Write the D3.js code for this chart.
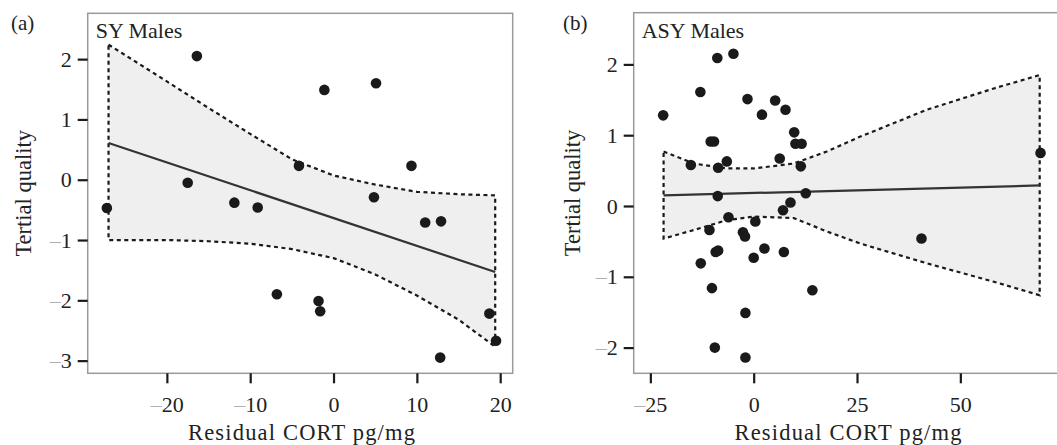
<!DOCTYPE html>
<html>
<head>
<meta charset="utf-8">
<script src="https://cdn.jsdelivr.net/npm/d3@7"></script>
<style>
  body { margin: 0; background: #fff; }
  svg { display: block; }
</style>
</head>
<body>
<svg id="chart" width="1057" height="445" font-family="'Liberation Serif', 'Times New Roman', serif"></svg>
<script>
// ---------- Panel (a): SY Males ----------
const syX = [-27.2, -16.4, -17.5, -11.9, -9.1, -6.8, -4.15, -1.1, -1.8, -1.6, 5.1, 4.85, 9.35, 11.0, 12.9, 12.8, 18.7, 19.5];
const syY = [-0.47, 2.05, -0.05, -0.38, -0.46, -1.90, 0.23, 1.49, -2.01, -2.18, 1.60, -0.29, 0.23, -0.71, -0.69, -2.95, -2.22, -2.67];
const syFitX = [-27.0, 19.4];
const syFitY = [0.61, -1.53];
const syBandX = [-27.0, -20, -15, -10, -5, 0, 5, 10, 15, 19.4];
const syUpper = [2.24, 1.63, 1.19, 0.76, 0.34, 0.07, -0.08, -0.20, -0.24, -0.26];
const syLower = [-1.0, -1.0, -1.02, -1.06, -1.15, -1.30, -1.57, -1.92, -2.32, -2.77];
const syXTicks = [-20, -10, 0, 10, 20];
const syYTicks = [-3, -2, -1, 0, 1, 2];

// ---------- Panel (b): ASY Males ----------
const asyX = [-21.9, -15.2, -12.9, -12.8, -10.7, -10.4, -9.6, -10.1, -9.4, -9.2, -8.6, -8.8, -8.6, -8.7, -6.5, -4.9, -6.1, -2.6, -2.1, -1.5, -2.0, -2.0, 0.0, 0.4, 2.0, 2.6, 5.2, 6.3, 7.1, 7.3, 7.7, 8.9, 9.8, 10.1, 11.6, 11.4, 12.6, 14.2, 40.6, 69.4];
const asyY = [1.28, 0.58, 1.61, -0.81, -0.34, 0.91, 0.91, -1.16, -2.0, -0.65, -0.63, 2.09, 0.54, 0.14, 0.63, 2.15, -0.16, -0.37, -0.43, 1.51, -1.51, -2.14, -0.73, -0.22, 1.29, -0.60, 1.49, 0.67, -0.06, -0.65, 1.36, 0.05, 1.04, 0.88, 0.88, 0.56, 0.18, -1.19, -0.46, 0.75];
const asyFitX = [-21.8, 69.2];
const asyFitY = [0.15, 0.29];
const asyBandX = [-21.8, -14.5, -6.5, 0, 9.7, 17.7, 25.8, 41.9, 58.1, 69.2];
const asyUpper = [0.77, 0.60, 0.53, 0.53, 0.60, 0.77, 0.98, 1.36, 1.66, 1.85];
const asyLower = [-0.46, -0.34, -0.20, -0.15, -0.17, -0.36, -0.53, -0.81, -1.07, -1.26];
const asyXTicks = [-25, 0, 25, 50];
const asyYTicks = [-2, -1, 0, 1, 2];

const FONT = "'Liberation Serif', 'Times New Roman', serif";
const TXT = "#222";
const svg = d3.select("#chart");

function panel(cfg) {
  const { left, right, top, bottom, xDomain, yDomain } = cfg;
  const x = d3.scaleLinear().domain(xDomain).range([left, right]);
  const y = d3.scaleLinear().domain(yDomain).range([bottom, top]);
  const g = svg.append("g");

  // confidence band
  const poly = cfg.bandX.map((v, i) => [x(v), y(cfg.upper[i])])
    .concat(cfg.bandX.map((v, i) => [x(v), y(cfg.lower[i])]).reverse());
  g.append("path")
    .attr("d", d3.line()(poly) + "Z")
    .attr("fill", "#efefef")
    .attr("stroke", "#1a1a1a")
    .attr("stroke-width", 2.2)
    .attr("stroke-dasharray", "4,3.5");

  // fit line
  g.append("path")
    .attr("d", d3.line()(cfg.fitX.map((v, i) => [x(v), y(cfg.fitY[i])])))
    .attr("fill", "none")
    .attr("stroke", "#333")
    .attr("stroke-width", 2.2);

  // points
  g.selectAll("circle.pt").data(cfg.px).join("circle")
    .attr("class", "pt")
    .attr("cx", d => x(d))
    .attr("cy", (d, i) => y(cfg.py[i]))
    .attr("r", 5.3)
    .attr("fill", "#1a1a1a");

  // box
  g.append("rect")
    .attr("x", left).attr("y", top)
    .attr("width", right - left).attr("height", bottom - top)
    .attr("fill", "none").attr("stroke", "#9a9a9a").attr("stroke-width", 1.5);

  const fmtTicks = sel => {
    sel.attr("font-family", FONT).attr("font-size", 22);
    sel.select(".domain").remove();
    sel.selectAll(".tick line").attr("stroke", "#1a1a1a").attr("stroke-width", 2.2);
    sel.selectAll(".tick text").each(function (d) {
      const t = d3.select(this);
      t.text(null).attr("fill", TXT).attr("font-family", FONT).attr("font-size", 22);
      if (d < 0) t.append("tspan").attr("fill", "#b0b0b0").text("\u2013");
      t.append("tspan").attr("fill", TXT).text(Math.abs(d));
    });
  };

  g.append("g").attr("transform", `translate(0,${bottom})`)
    .call(d3.axisBottom(x).tickValues(cfg.xTicks).tickSize(10).tickPadding(13))
    .call(fmtTicks);
  g.append("g").attr("transform", `translate(${left},0)`)
    .call(d3.axisLeft(y).tickValues(cfg.yTicks).tickSize(10).tickPadding(6))
    .call(fmtTicks);

  // labels
  const txt = () => g.append("text").attr("font-family", FONT).attr("fill", TXT);
  txt().attr("x", cfg.tagX).attr("y", 30).attr("font-size", 21).text(cfg.tag);
  txt().attr("x", left + 8).attr("y", 38).attr("font-size", 22).text(cfg.title);
  txt().attr("x", cfg.xTitleX).attr("y", 440)
    .attr("text-anchor", "middle").attr("font-size", 22.5)
    .attr("textLength", 227).attr("lengthAdjust", "spacing")
    .text("Residual CORT pg/mg");
  txt().attr("transform", `translate(${cfg.yTitleX},${(top + bottom) / 2}) rotate(-90)`)
    .attr("text-anchor", "middle").attr("font-size", 22.5)
    .text("Tertial quality");
}

panel({
  left: 87.7, right: 512.7, top: 13.3, bottom: 373.3,
  xDomain: [-29.5, 21.5], yDomain: [-3.21, 2.76],
  px: syX, py: syY, fitX: syFitX, fitY: syFitY,
  bandX: syBandX, upper: syUpper, lower: syLower,
  xTicks: syXTicks, yTicks: syYTicks,
  tag: "(a)", tagX: 11, title: "SY Males", xTitleX: 301.5, yTitleX: 31
});

panel({
  left: 633.7, right: 1058.5, top: 12.7, bottom: 373.3,
  xDomain: [-29.03, 73.75], yDomain: [-2.363, 2.73],
  px: asyX, py: asyY, fitX: asyFitX, fitY: asyFitY,
  bandX: asyBandX, upper: asyUpper, lower: asyLower,
  xTicks: asyXTicks, yTicks: asyYTicks,
  tag: "(b)", tagX: 563, title: "ASY Males", xTitleX: 848, yTitleX: 580
});
</script>
</body>
</html>
